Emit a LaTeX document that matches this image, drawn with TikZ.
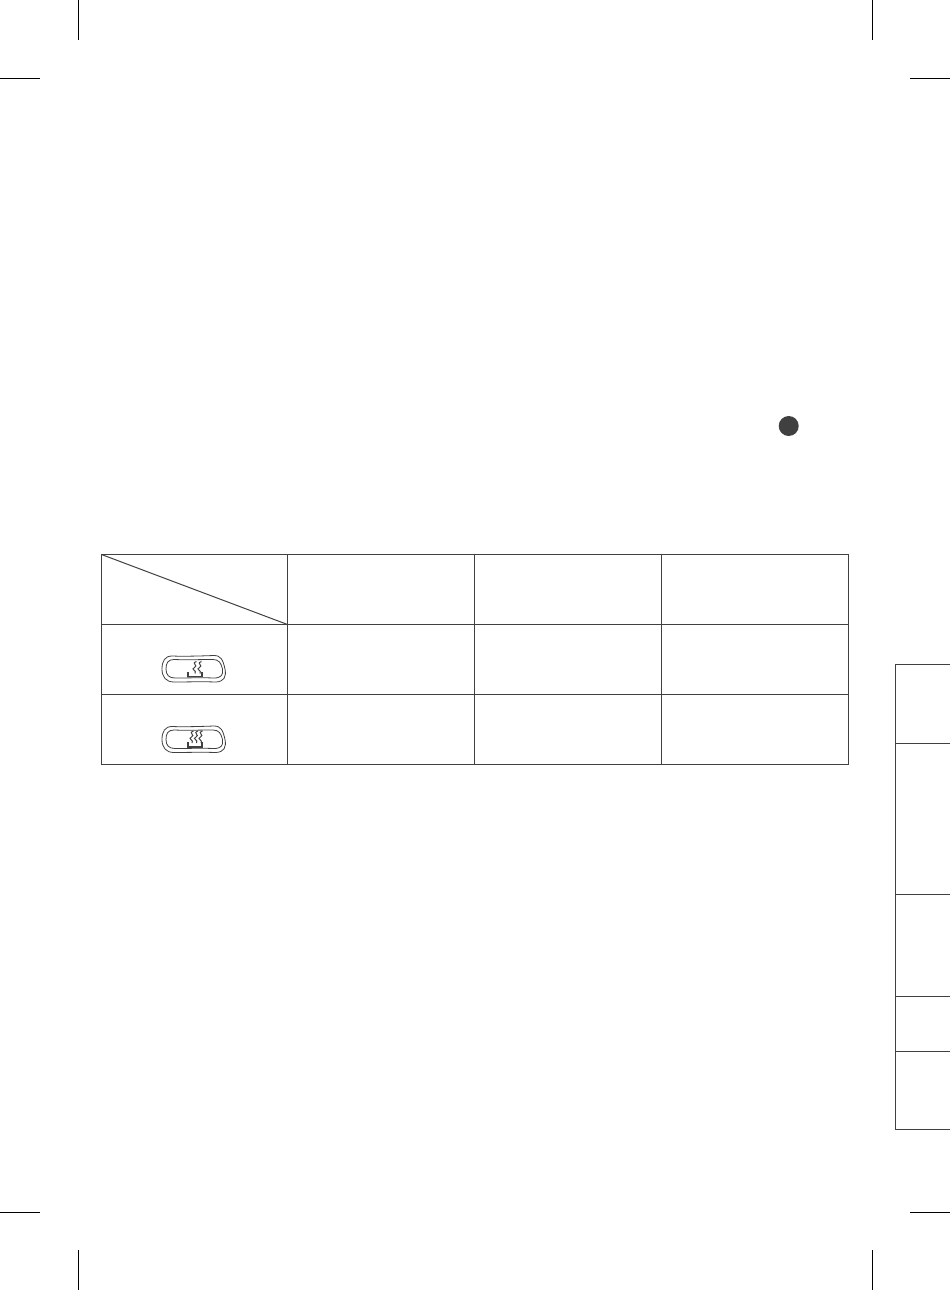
\documentclass[tikz,border=0pt]{standalone}
\usepackage{tikz}
\definecolor{tabledark}{HTML}{404040}
\tikzset{
	cropmark/.style={line width=1pt,color=black},
	tableline/.style={line width=1pt,color=tabledark},
	cellbox/.style={draw,tableline,minimum height=70pt,inner sep=0pt,outer sep=0pt},
	tabline/.style={line width=1.2pt,color=tabledark},
	keyline/.style={line width=0.8pt,color=tabledark},
	keybase/.style={line width=1.1pt,color=tabledark},
	steamline/.style={line width=1pt,color=tabledark},
	markdot/.style={circle,fill=tabledark,minimum size=20pt,inner sep=0pt,outer sep=0pt},
	pics/heatkey/.style={code={
		\draw[keyline] (-22,-13) .. controls (-10,-12.5) and (6,-13) .. (20,-13.5) .. controls (27,-13.5) and (29,-9) .. (31,0) .. controls (32.5,8) and (30,12.5) .. (22,13) .. controls (8,12.5) and (-8,13) .. (-20,13) .. controls (-28,13) and (-32,8) .. (-32,0) .. controls (-32,-8) and (-29,-13) .. (-22,-13) -- cycle;
		\draw[keyline] (-20,-9.5) .. controls (-8,-9) and (8,-9.5) .. (19,-9.5) .. controls (25,-9.5) and (27,-6) .. (28.5,0) .. controls (29.5,6) and (27,9) .. (20,9) .. controls (8,8.5) and (-8,9) .. (-19,9) .. controls (-25,9) and (-28,6) .. (-28,0) .. controls (-28,-6) and (-26,-9.5) .. (-20,-9.5) -- cycle;
		\draw[keybase] (-6,2.5) -- (-6,7.5) -- (8,7.5) -- (8,2.5);
	}},
	pics/steam/.style={code={
		\draw[steamline] (2,-8.5) .. controls (-4,-6.5) and (4.5,-4.5) .. (0,-2.5) .. controls (-4.5,-0.5) and (3,0.5) .. (0.5,3.5);
	}}
}

\begin{document}
\begin{tikzpicture}[x=1pt,y=-1pt]
	\useasboundingbox (0,0) rectangle (950,1290);

	% crop marks
	\foreach \xa in {78,872} {
		\draw[cropmark] (\xa,0) -- (\xa,40);
		\draw[cropmark] (\xa,1250) -- (\xa,1290);
	}
	\foreach \ya in {78,1212} {
		\draw[cropmark] (0,\ya) -- (40,\ya);
		\draw[cropmark] (910,\ya) -- (950,\ya);
	}

	\node[markdot] at (788.7,426) (dot) {};

	% table
	\foreach \xa/\wa/\ca in {194.5/186/a,381/187/b,568/187/c,755/187/d} {
		\foreach \ya/\ra in {589.5/one,659.5/two,729.5/three} {
			\node[cellbox,minimum width=\wa pt] at (\xa,\ya) (cell\ca\ra) {};
		}
	}
	\draw[tableline] (cellaone.north west) -- (cellaone.south east);

	% keys in the first column
	\pic at (194,669) {heatkey};
	\pic at (194,739.5) {heatkey};
	\pic at (194.5,670) {steam};
	\pic at (199.5,670) {steam};
	\pic at (191.5,739.5) {steam};
	\pic at (196,739.5) {steam};
	\pic at (200.5,739.5) {steam};

	% side tabs
	\draw[tabline] (950,664.5) -- (895.5,664.5) -- (895.5,1129.5) -- (950,1129.5);
	\foreach \ya in {743.5,894.5,996.5,1051.5} {
		\draw[tabline] (895.5,\ya) -- (950,\ya);
	}
\end{tikzpicture}
\end{document}
